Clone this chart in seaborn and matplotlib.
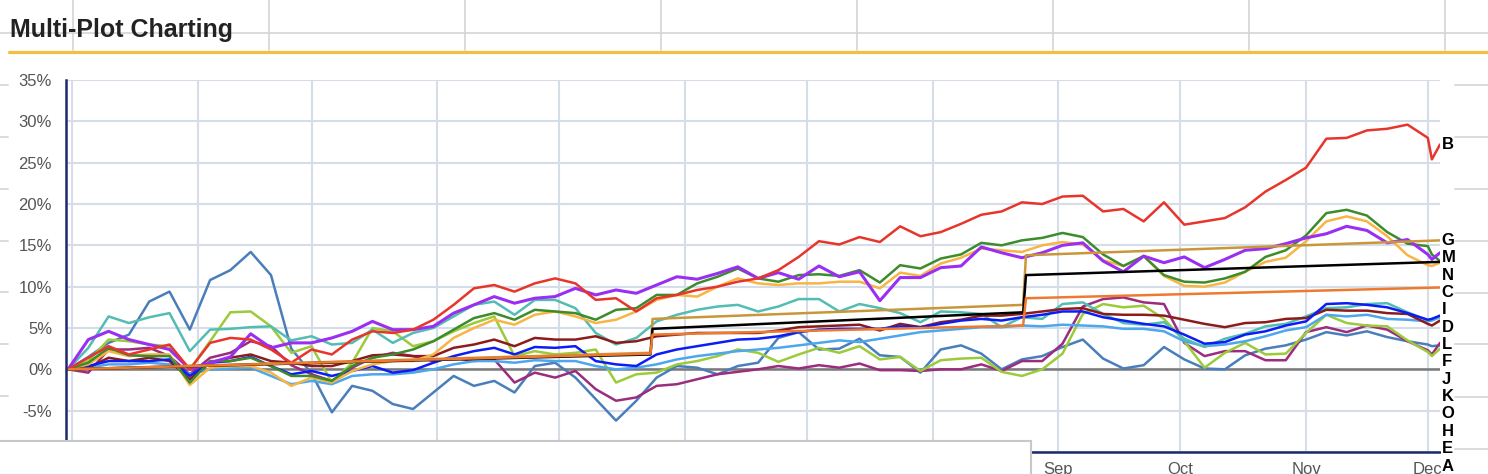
import matplotlib
matplotlib.use("Agg")
import matplotlib.pyplot as plt
import matplotlib.dates as mdates
from matplotlib.lines import Line2D
from matplotlib.patches import Rectangle
from matplotlib.ticker import FuncFormatter
import pandas as pd
import seaborn as sns

sns.set_style("white")
plt.rcParams["font.family"] = ["Liberation Sans", "DejaVu Sans"]

# DATA - % change, every 5 days (day 0 = 1 Jan 2019)
days = list(range(-1, 335, 5)) + [335, 337]

red_b = [0, 1.4, 2.8, 1.8, 2.4, 3.0, 0.0, 3.2, 3.8, 3.6, 2.4, 0.8,
         2.4, 1.8, 3.6, 4.6, 4.4, 4.8, 6.0, 7.8, 9.8, 10.2, 9.4, 10.4,
         11.0, 10.4, 8.4, 8.6, 7.0, 8.6, 9.0, 9.6, 10.0, 10.6, 11.0, 12.0,
         13.6, 15.5, 15.1, 16.0, 15.4, 17.3, 16.1, 16.6, 17.6, 18.7, 19.1, 20.2,
         20.0, 20.9, 21.0, 19.1, 19.4, 17.9, 20.2, 17.5, 17.9, 18.3, 19.6, 21.5,
         22.9, 24.4, 27.9, 28.0, 28.9, 29.1, 29.6, 28.0, 25.4, 27.2]
green_n = [0, 0.8, 2.6, 1.7, 1.6, 1.6, -1.6, 1.0, 1.0, 1.4, 0.4, -0.8,
           -0.8, -1.4, 0.4, 1.4, 1.8, 2.4, 3.4, 4.8, 6.2, 6.8, 6.0, 7.2,
           7.0, 6.8, 6.0, 7.2, 7.4, 9.0, 9.0, 10.4, 11.2, 12.2, 11.0, 10.6,
           11.4, 11.5, 11.3, 12.0, 10.5, 12.6, 12.2, 13.4, 13.9, 15.3, 15.0, 15.6,
           15.9, 16.5, 16.0, 13.9, 12.5, 13.7, 11.4, 10.6, 10.5, 11.0, 11.8, 13.6,
           14.4, 16.2, 18.9, 19.3, 18.6, 16.6, 15.2, 14.9, 13.9, 13.1]
lightorange_i = [0, 0.6, 2.2, 1.6, 1.8, 1.8, -1.9, 0.2, 0.4, 0.4, -0.4, -2.0,
                 -1.0, -1.6, -0.2, 0.6, 1.0, 1.0, 1.8, 3.8, 5.0, 6.0, 5.4, 6.6,
                 7.0, 6.4, 5.6, 6.0, 7.0, 8.4, 9.0, 8.8, 10.0, 11.0, 10.4, 10.2,
                 10.4, 10.4, 10.6, 10.6, 9.8, 11.7, 11.3, 12.8, 13.5, 14.6, 14.4, 14.2,
                 15.0, 15.4, 15.1, 13.2, 12.5, 13.7, 11.3, 10.1, 10.0, 10.5, 11.8, 13.0,
                 13.5, 15.5, 17.9, 18.5, 17.9, 16.1, 13.8, 12.6, 12.5, 12.9]
purple_m = [0, 3.6, 4.6, 3.6, 3.0, 2.4, 0.0, 0.8, 1.5, 4.3, 2.6, 3.2,
            3.2, 3.8, 4.6, 5.8, 4.8, 4.8, 5.2, 6.8, 7.8, 8.8, 8.0, 8.6,
            8.8, 9.8, 9.0, 9.6, 9.2, 10.2, 11.2, 10.9, 11.6, 12.4, 11.0, 11.7,
            10.9, 12.5, 11.2, 11.8, 8.3, 11.1, 11.1, 12.3, 12.5, 14.8, 14.1, 13.5,
            14.1, 15.0, 15.3, 13.1, 11.8, 13.7, 12.9, 13.6, 12.3, 13.3, 14.4, 14.6,
            15.2, 15.9, 16.4, 17.3, 16.8, 15.3, 15.7, 13.9, 13.3, 14.1]
turquoise_f = [0, 2.6, 6.4, 5.6, 6.3, 6.8, 2.2, 4.8, 4.9, 5.1, 5.2, 3.5,
               4.0, 3.0, 3.2, 4.8, 3.2, 4.4, 5.0, 6.4, 7.8, 8.2, 6.6, 8.4,
               8.4, 7.4, 4.4, 3.0, 3.8, 5.8, 6.6, 7.2, 7.6, 7.8, 7.0, 7.6,
               8.5, 8.5, 7.0, 7.9, 7.4, 6.8, 5.7, 7.0, 6.9, 6.7, 5.1, 6.3,
               6.1, 7.9, 8.1, 6.7, 5.6, 5.4, 5.7, 3.7, 2.7, 3.7, 4.3, 5.2,
               5.5, 6.4, 7.4, 7.5, 7.9, 8.0, 6.9, 5.9, 6.1, 6.4]
blue_l = [0, 0.4, 1.0, 1.0, 1.0, 1.2, -0.8, 0.8, 1.0, 1.5, 0.4, -0.6,
          -0.2, -0.8, -0.2, 0.4, -0.4, -0.1, 0.8, 1.6, 2.2, 2.6, 1.8, 2.7,
          2.6, 2.8, 1.0, 0.6, 0.4, 1.8, 2.4, 2.8, 3.2, 3.6, 3.7, 4.0,
          4.5, 4.8, 4.9, 4.9, 4.9, 5.2, 5.1, 5.5, 5.9, 6.1, 5.9, 6.3,
          6.6, 7.0, 7.0, 6.3, 5.9, 5.5, 5.2, 4.2, 3.1, 3.3, 4.2, 4.6,
          5.3, 5.8, 7.9, 8.0, 7.8, 7.5, 6.8, 6.0, 6.1, 6.5]
maroon_k = [0, 0.2, 1.4, 1.0, 1.4, 1.0, -1.2, 0.8, 1.4, 1.8, 1.0, 0.8,
            0.4, 0.4, 1.0, 1.7, 1.8, 1.6, 1.6, 2.6, 3.0, 3.6, 2.8, 3.8,
            3.6, 3.6, 4.0, 3.2, 3.4, 4.0, 4.2, 4.4, 4.4, 4.4, 4.4, 4.7,
            5.1, 5.2, 5.3, 5.4, 4.7, 5.5, 5.1, 5.7, 6.0, 6.5, 6.5, 6.7,
            7.0, 7.3, 7.4, 6.7, 6.6, 6.6, 6.5, 6.0, 5.5, 5.1, 5.6, 5.7,
            6.1, 6.2, 7.2, 7.1, 7.1, 6.8, 6.7, 5.5, 5.3, 5.9]
lightblue_j = [0, 0.2, 0.6, 0.6, 0.8, 0.6, -0.6, 0.0, 0.1, 0.2, -0.8, -1.8,
               -1.4, -1.8, -0.8, -0.6, -0.6, -0.4, 0.0, 0.6, 1.0, 1.0, 0.8, 1.1,
               1.0, 1.0, 0.4, 0.0, 0.2, 0.6, 1.2, 1.6, 1.9, 2.2, 2.4, 2.6,
               2.9, 3.2, 3.5, 3.3, 3.7, 4.1, 4.5, 4.7, 4.9, 5.1, 5.1, 5.3,
               5.2, 5.4, 5.3, 5.2, 4.9, 4.9, 4.6, 3.4, 2.8, 3.0, 3.4, 4.0,
               4.7, 5.1, 6.6, 6.4, 6.6, 6.1, 6.0, 5.8, 5.9, 6.3]
steel_h = [0, 1.5, 3.2, 4.2, 8.2, 9.4, 4.8, 10.8, 12.0, 14.2, 11.4, 2.5,
           -0.5, -5.2, -2.0, -2.6, -4.2, -4.8, -2.8, -0.8, -2.0, -1.4, -2.8, 0.4,
           0.8, -1.0, -3.6, -6.2, -3.8, -1.0, 0.4, 0.2, -0.6, 0.4, 0.8, 3.8,
           4.5, 2.4, 2.5, 3.7, 1.7, 1.5, -0.4, 2.4, 2.9, 1.9, 0.0, 1.2,
           1.6, 2.7, 3.6, 1.3, 0.1, 0.5, 2.7, 1.2, 0.1, 0.0, 1.7, 2.5,
           2.9, 3.6, 4.5, 4.1, 4.6, 3.9, 3.4, 3.0, 2.8, 2.9]
yellowgreen_e = [0, 1.0, 3.6, 3.4, 3.0, 2.8, 0.0, 3.4, 6.9, 7.0, 5.2, 2.0,
                 2.8, -1.6, 0.8, 5.0, 4.6, 2.8, 3.4, 4.6, 5.6, 6.4, 1.6, 2.2,
                 1.8, 2.0, 2.4, -1.6, -0.6, -0.4, 0.6, 1.0, 1.6, 2.4, 2.0, 0.9,
                 1.8, 2.6, 2.0, 2.8, 1.2, 1.5, -0.2, 1.1, 1.3, 1.4, -0.3, -0.8,
                 0.0, 1.9, 6.7, 7.9, 7.5, 7.7, 6.1, 3.4, 0.2, 2.0, 3.2, 1.8,
                 1.9, 4.4, 6.6, 5.6, 5.3, 5.2, 3.5, 2.1, 1.6, 2.5]
plum_o = [0, -0.4, 2.4, 2.4, 2.6, 1.6, -0.6, 1.4, 2.0, 3.4, 2.8, 0.5,
          -0.6, -1.4, 0.2, 1.4, 2.0, 1.6, 1.0, 1.4, 1.0, 1.2, -1.6, -0.4,
          -1.0, -0.2, -2.4, -3.8, -3.4, -2.0, -1.8, -1.2, -0.6, -0.3, 0.0, 0.4,
          0.1, 0.5, 0.2, 0.7, -0.1, -0.1, -0.2, 0.0, 0.0, 0.6, -0.2, 1.0,
          1.0, 3.1, 7.6, 8.5, 8.7, 8.1, 7.9, 3.2, 1.6, 2.2, 2.2, 1.1,
          1.1, 4.5, 5.1, 4.5, 5.3, 4.8, 3.4, 2.3, 1.8, 3.2]

# the three stepped series only need their breakpoints
step_days = [-1, 142.5, 143, 234.3, 235, 337]
gold_g = [0, 2.0, 6.1, 7.8, 13.8, 15.6]
black_c = [0, 1.8, 4.9, 6.9, 11.4, 13.0]
orange_d = [0, 1.9, 4.2, 5.3, 8.6, 9.9]
flat_days = [-1, 337]
gray_a = [0, 0]

# letter, day grid, values, colour, line width (drawing order)
series = [
    ("A", flat_days, gray_a, "#7a7a7a", 1.8),
    ("H", days, steel_h, "#4a7ebb", 1.8),
    ("O", days, plum_o, "#9b2c7e", 1.8),
    ("E", days, yellowgreen_e, "#9bcb3a", 1.8),
    ("J", days, lightblue_j, "#4da6ee", 1.8),
    ("F", days, turquoise_f, "#52bdb2", 1.8),
    ("K", days, maroon_k, "#8c1c1c", 1.8),
    ("L", days, blue_l, "#0b1cf5", 1.8),
    ("I", days, lightorange_i, "#f7b544", 1.8),
    ("N", days, green_n, "#3c8c2c", 1.8),
    ("M", days, purple_m, "#9a2ef2", 2.2),
    ("B", days, red_b, "#e8352b", 1.8),
    ("G", step_days, gold_g, "#c9973a", 1.8),
    ("C", step_days, black_c, "#000000", 1.8),
    ("D", step_days, orange_d, "#ee7a30", 1.8),
]

start = pd.Timestamp("2019-01-01")
W, H = 1488, 474
fig = plt.figure(figsize=(W / 100, H / 100), dpi=100)
fig.patch.set_facecolor("white")

# spreadsheet cells behind the chart
sheet = "#d4d4d4"
fig.add_artist(Line2D([0, 1], [1 - 33 / H] * 2, color=sheet, lw=1.2))
for px in [73, 269, 465, 661, 857, 1053, 1249, 1445]:
    fig.add_artist(Line2D([px / W] * 2, [1, 1 - 50 / H], color=sheet, lw=1.2))
for py in [85, 137, 189, 241, 292, 344, 396]:
    fig.add_artist(Line2D([0, 8 / W], [1 - py / H] * 2, color=sheet, lw=1.2))
for py in [85, 137, 189, 241, 293, 344, 397, 449]:
    fig.add_artist(Line2D([1455 / W, 1], [1 - py / H] * 2, color=sheet, lw=1.2))

fig.text(10 / W, 1 - 37 / H, "Multi-Plot Charting", fontsize=18,
         fontweight="bold", color="#222222", va="baseline", ha="left")
fig.add_artist(Line2D([9 / W, 1], [1 - 51.5 / H] * 2, color="#f4bf3e", lw=2.3))

ax = fig.add_axes([66 / W, 1 - 452 / H, (1440 - 66) / W, (452 - 80) / H])

for letter, d, vals, color, lw in series:
    x = start + pd.to_timedelta(d, unit="D")
    sns.lineplot(x=x, y=vals, color=color, lw=lw, ax=ax, estimator=None)

ax.set_xlim(start + pd.Timedelta(days=-1.5), start + pd.Timedelta(days=337))
ax.set_ylim(-10, 35)
ax.set_yticks(range(-10, 36, 5))
ax.yaxis.set_major_formatter(FuncFormatter(lambda v, p: f"{v:.0f}%"))
ax.xaxis.set_major_locator(mdates.MonthLocator())
ax.xaxis.set_major_formatter(mdates.DateFormatter("%b"))
ax.grid(True, color="#d5dee8", lw=1.5)
ax.set_axisbelow(True)
ax.tick_params(length=0, labelsize=12, labelcolor="#555555")
ax.tick_params(axis="y", pad=10)
ax.tick_params(axis="x", pad=7)
ax.set_xlabel("")
ax.set_ylabel("")
for side in ["top", "right"]:
    ax.spines[side].set_visible(False)
for side in ["left", "bottom"]:
    ax.spines[side].set_color("#1b2a6b")
    ax.spines[side].set_linewidth(1.8)

# end labels, pushed down so they do not overlap
ends = sorted(((vals[-1], letter) for letter, d, vals, c, lw in series), reverse=True)
prev = None
for v, letter in ends:
    ypos = v if prev is None else min(v, prev - 2.1)
    prev = ypos
    ax.annotate(letter, xy=(1, ypos), xycoords=("axes fraction", "data"),
                xytext=(1, 0), textcoords="offset points", ha="left", va="center",
                fontsize=12, fontweight="bold", color="black", annotation_clip=False,
                bbox=dict(boxstyle="square,pad=0.05", fc="white", ec="none"))

# box of the page that sits over the lower left of the chart
fig.add_artist(Rectangle((-0.01, -0.1), (1031 + 15) / W, 0.1 + 1 - 441 / H,
                         facecolor="white", edgecolor="#c8c8c8", lw=1.5, zorder=10))

fig.savefig("out.png", dpi=100, facecolor="white")
